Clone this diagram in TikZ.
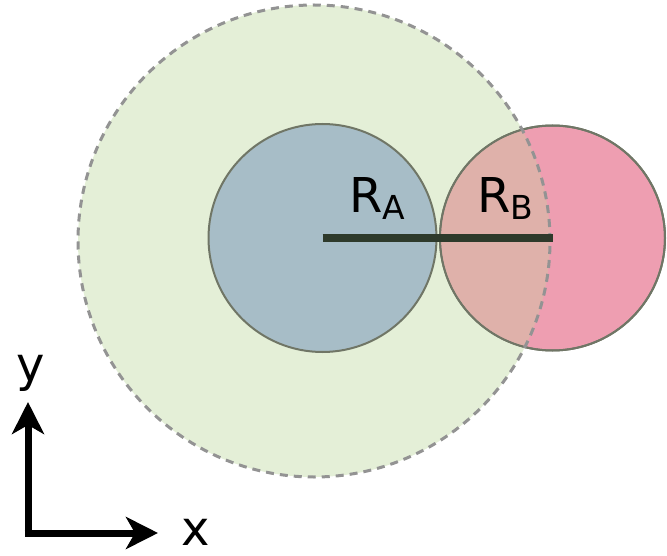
\documentclass[tikz,border=0pt]{standalone}
\usepackage{fontspec}
\setmainfont{DejaVu Sans}
\usetikzlibrary{arrows.meta}
\definecolor{gfill}{HTML}{E4EFD7}
\definecolor{bfill}{HTML}{A7BDC7}
\definecolor{pfill}{HTML}{EE9EB1}
\definecolor{ofill}{HTML}{DFB1AA}
\definecolor{rim}{HTML}{707666}
\definecolor{dashc}{HTML}{939393}
\definecolor{bar}{HTML}{2E3A2B}
\tikzset{
  ball/.style={circle, inner sep=0pt, outer sep=0pt, draw=rim, line width=2pt},
  lbl/.style={font=\fontsize{48}{48}\selectfont, inner sep=0pt, text=black},
  axis/.style={line width=7pt, -{Stealth[length=32pt,width=32pt,inset=9pt]}}
}
\begin{document}
\begin{tikzpicture}[x=1pt,y=-1pt]
\useasboundingbox (0,0) rectangle (667,556);
% big dashed sphere fill
\node[circle, inner sep=0pt, minimum size=472pt, fill=gfill] (G) at (314,241) {};
% blue sphere
\node[ball, fill=bfill, minimum size=228pt] (A) at (322.5,238) {};
% pink sphere
\node[ball, fill=pfill, minimum size=225pt] (B) at (552.5,238) {};
\begin{scope}
  \clip (314,241) circle (236pt);
  \fill[ofill] (552.5,238) circle (111.5pt);
\end{scope}
\draw[rim, line width=2pt] (552.5,238) circle (112.5pt);
% dashed border
\draw[dashc, line width=3pt, dash pattern=on 8pt off 6pt] (314,241) circle (236pt);
% radius bar
\draw[bar, line width=8pt] (A.center) -- (B.center);
% labels
\node[lbl, anchor=base west] (la) at (349,213) {R\raisebox{-7pt}{\fontsize{33}{33}\selectfont A}};
\node[lbl, anchor=base west] (lb) at (477,213) {R\raisebox{-7pt}{\fontsize{33}{33}\selectfont B}};
% axes
\coordinate (o) at (28,533);
\coordinate (ytip) at (28,402);
\coordinate (xtip) at (158,533);
\draw[axis] (o) -- (ytip);
\draw[axis] (o) -- (xtip);
\draw[line width=7pt] (24.5,533) -- (28,533);
\node[lbl, anchor=base] (ly) at (31,381) {y};
\node[lbl, anchor=base] (lx) at (196,545) {x};
\end{tikzpicture}
\end{document}
